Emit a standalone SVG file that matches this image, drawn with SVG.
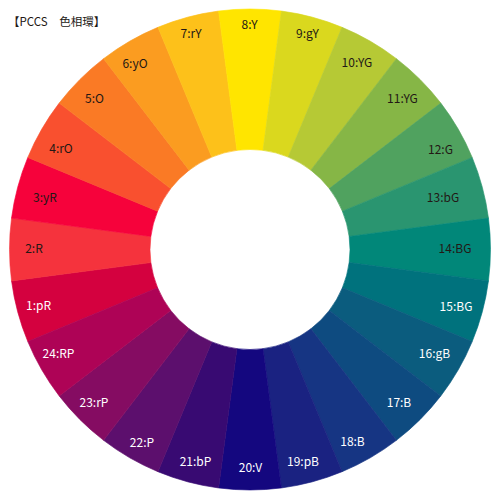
<svg xmlns="http://www.w3.org/2000/svg" xmlns:xlink="http://www.w3.org/1999/xlink" width="500" height="500" viewBox="0 0 500 500">
<style>
text{font-family:"Noto Sans CJK JP","Noto Sans",sans-serif;font-size:12px;text-anchor:middle}
.d{fill:#231815}
.w{fill:#ffffff}
.t{font-size:11.5px;text-anchor:start;fill:#231815}
</style>
<defs>
<path id="wedge" stroke-width="0.6" d="M218.608,11.057 A240.5,240.5 0 0 1 281.392,11.057 L263.053,150.355 A100,100 0 0 0 236.947,150.355 Z"/>
</defs>
<rect width="500" height="500" fill="#ffffff"/>
<text class="t" x="8" y="26">【PCCS　色相環】</text>
<g id="wheel">
<g id="h1"><use xlink:href="#wedge" fill="#D4013F" stroke="#D4013F" transform="rotate(-105 250 249.5)"/><text class="w" x="38.5" y="310">1:pR</text></g>
<g id="h2"><use xlink:href="#wedge" fill="#F5333D" stroke="#F5333D" transform="rotate(-90 250 249.5)"/><text class="d" x="34" y="253">2:R</text></g>
<g id="h3"><use xlink:href="#wedge" fill="#F6023B" stroke="#F6023B" transform="rotate(-75 250 249.5)"/><text class="d" x="45" y="202">3:yR</text></g>
<g id="h4"><use xlink:href="#wedge" fill="#F9502F" stroke="#F9502F" transform="rotate(-60 250 249.5)"/><text class="d" x="61" y="153">4:rO</text></g>
<g id="h5"><use xlink:href="#wedge" fill="#FA7A25" stroke="#FA7A25" transform="rotate(-45 250 249.5)"/><text class="d" x="94.5" y="103">5:O</text></g>
<g id="h6"><use xlink:href="#wedge" fill="#FB9C20" stroke="#FB9C20" transform="rotate(-30 250 249.5)"/><text class="d" x="135" y="68">6:yO</text></g>
<g id="h7"><use xlink:href="#wedge" fill="#FDC11A" stroke="#FDC11A" transform="rotate(-15 250 249.5)"/><text class="d" x="191" y="38">7:rY</text></g>
<g id="h8"><use xlink:href="#wedge" fill="#FFE500" stroke="#FFE500"/><text class="d" x="249.5" y="29">8:Y</text></g>
<g id="h9"><use xlink:href="#wedge" fill="#DAD81E" stroke="#DAD81E" transform="rotate(15 250 249.5)"/><text class="d" x="307.5" y="38">9:gY</text></g>
<g id="h10"><use xlink:href="#wedge" fill="#B6C935" stroke="#B6C935" transform="rotate(30 250 249.5)"/><text class="d" x="357" y="67">10:YG</text></g>
<g id="h11"><use xlink:href="#wedge" fill="#86B646" stroke="#86B646" transform="rotate(45 250 249.5)"/><text class="d" x="402.5" y="103">11:YG</text></g>
<g id="h12"><use xlink:href="#wedge" fill="#50A25F" stroke="#50A25F" transform="rotate(60 250 249.5)"/><text class="d" x="440.5" y="154">12:G</text></g>
<g id="h13"><use xlink:href="#wedge" fill="#2A9570" stroke="#2A9570" transform="rotate(75 250 249.5)"/><text class="d" x="443" y="202">13:bG</text></g>
<g id="h14"><use xlink:href="#wedge" fill="#018779" stroke="#018779" transform="rotate(90 250 249.5)"/><text class="d" x="455" y="253">14:BG</text></g>
<g id="h15"><use xlink:href="#wedge" fill="#00727D" stroke="#00727D" transform="rotate(105 250 249.5)"/><text class="w" x="456" y="311">15:BG</text></g>
<g id="h16"><use xlink:href="#wedge" fill="#0B5C7E" stroke="#0B5C7E" transform="rotate(120 250 249.5)"/><text class="w" x="434.5" y="358">16:gB</text></g>
<g id="h17"><use xlink:href="#wedge" fill="#0E4B80" stroke="#0E4B80" transform="rotate(135 250 249.5)"/><text class="w" x="399" y="407">17:B</text></g>
<g id="h18"><use xlink:href="#wedge" fill="#163583" stroke="#163583" transform="rotate(150 250 249.5)"/><text class="w" x="352.5" y="446">18:B</text></g>
<g id="h19"><use xlink:href="#wedge" fill="#1A2281" stroke="#1A2281" transform="rotate(165 250 249.5)"/><text class="w" x="303" y="466">19:pB</text></g>
<g id="h20"><use xlink:href="#wedge" fill="#14077F" stroke="#14077F" transform="rotate(180 250 249.5)"/><text class="w" x="250.5" y="472">20:V</text></g>
<g id="h21"><use xlink:href="#wedge" fill="#380A72" stroke="#380A72" transform="rotate(195 250 249.5)"/><text class="w" x="195.5" y="466">21:bP</text></g>
<g id="h22"><use xlink:href="#wedge" fill="#5C0F6D" stroke="#5C0F6D" transform="rotate(210 250 249.5)"/><text class="w" x="142" y="447">22:P</text></g>
<g id="h23"><use xlink:href="#wedge" fill="#850C62" stroke="#850C62" transform="rotate(225 250 249.5)"/><text class="w" x="94" y="407">23:rP</text></g>
<g id="h24"><use xlink:href="#wedge" fill="#AE0356" stroke="#AE0356" transform="rotate(240 250 249.5)"/><text class="w" x="58.5" y="358">24:RP</text></g>
</g>
<g id="connectors"/>
</svg>
